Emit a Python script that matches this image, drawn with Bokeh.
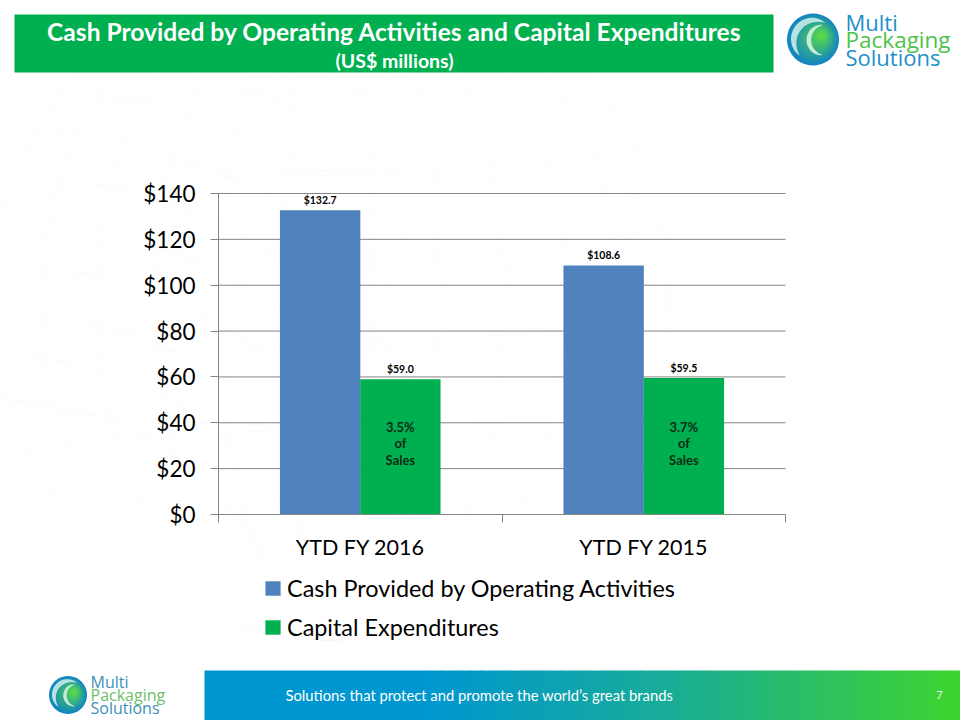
import math
from bokeh.embed import file_html
from bokeh.resources import INLINE
from bokeh.plotting import figure
from bokeh.core.properties import value
from bokeh.transform import dodge
from bokeh.models import (ColumnDataSource, Range1d, LinearAxis, FixedTicker,
                          NumeralTickFormatter, Legend, LegendItem, Label, BoxAnnotation, PolyAnnotation)

# ---- data ----
categories = ["YTD FY 2016", "YTD FY 2015"]
cash_provided = [132.7, 108.6]
capex = [59.0, 59.5]
cash_labels = ["$132.7", "$108.6"]
capex_labels = ["$59.0", "$59.5"]
sales_notes = ["3.5%\nof\nSales", "3.7%\nof\nSales"]
y_ticks = [0, 20, 40, 60, 80, 100, 120, 140]
series_names = ["Cash Provided by Operating Activities", "Capital Expenditures"]
title_text = "Cash Provided by Operating Activities and Capital Expenditures"
subtitle_text = "(US$ millions)"
footer_text = "Solutions that protect and promote the world\u2019s great brands"
page_number = "7"

# ---- style ----
FONT = "Lato"
BLUE = "#4F81BD"
GREEN = "#00B050"
GRID = "#868686"
W, H = 960, 720
FL, FR, FT, FB = 218, 785, 193, 514   # plot area in page pixels
DODGE = 0.1415
BAR_W = 0.2835
N = len(categories)
Y_MAX = y_ticks[-1]

centers = [i + 0.5 for i in range(N)]
px_x = (FR - FL) / N
px_y = (FB - FT) / Y_MAX

p = figure(width=W, height=H, output_backend="svg", toolbar_location=None,
           x_range=Range1d(-FL / px_x, N + (W - FR) / px_x),
           y_range=Range1d(-(H - FB) / px_y, Y_MAX + FT / px_y),
           min_border_left=0, min_border_right=0, min_border_top=0, min_border_bottom=0,
           x_axis_location=None, y_axis_location=None,
           outline_line_color=None, background_fill_color="white", border_fill_color="white")
p.grid.visible = False

src = ColumnDataSource(dict(pos=centers, cash=cash_provided, capex=capex,
                            cash_l=cash_labels, capex_l=capex_labels, note=sales_notes,
                            base=[0] * N))
grid_src = ColumnDataSource(dict(x0=[0] * len(y_ticks), x1=[N] * len(y_ticks), y=y_ticks))


# ---- page furniture helpers (page pixels) ----
def box(l, t, r, b, color):
    p.add_layout(BoxAnnotation(left=l, right=r, top=t, bottom=b,
                               left_units="canvas", right_units="canvas", top_units="canvas", bottom_units="canvas",
                               fill_color=color, fill_alpha=1, line_color=None, level="underlay", editable=False))


def poly(xs, ys, fill=None, line=None, width=1):
    p.add_layout(PolyAnnotation(xs=list(xs), ys=list(ys), xs_units="canvas", ys_units="canvas",
                                fill_color=fill, fill_alpha=1 if fill else 0,
                                line_color=line, line_width=width, level="underlay", editable=False))


def ell(cx, cy, rx, ry, n=72):
    a = [2 * math.pi * i / n for i in range(n)]
    return [cx + rx * math.cos(t) for t in a], [cy + ry * math.sin(t) for t in a]


def label(text, x, y, size, color, bold=False, align="left", baseline="middle", font=FONT):
    p.add_layout(Label(x=x, y=H - y, x_units="screen", y_units="screen", text=text,
                       text_font=font, text_font_size=f"{size}px",
                       text_font_style="bold" if bold else "normal",
                       text_color=color, text_align=align, text_baseline=baseline))


def mix(c1, c2, t):
    return "#%02x%02x%02x" % tuple(round(a + (b - a) * t) for a, b in zip(c1, c2))


def tapered_arc(cx, cy, rad, a0, a1, thick, color):
    n = 26
    ang = [math.radians(a0 + (a1 - a0) * i / n) for i in range(n + 1)]
    th = [thick * max(math.sin(math.pi * i / n), 0.0) ** 0.8 for i in range(n + 1)]
    ox = [cx + (rad + th[i] / 2) * math.cos(ang[i]) for i in range(n + 1)]
    oy = [cy - (rad + th[i] / 2) * math.sin(ang[i]) for i in range(n + 1)]
    ix = [cx + (rad - th[i] / 2) * math.cos(ang[i]) for i in range(n, -1, -1)]
    iy = [cy - (rad - th[i] / 2) * math.sin(ang[i]) for i in range(n, -1, -1)]
    poly(ox + ix, oy + iy, fill=color)


def logo(cx, cy, r):
    outer = (0x14, 0x86, 0xC0)
    inner = (0x58, 0xD8, 0x4A)
    steps = 16
    for i in range(steps):
        t = i / (steps - 1)
        rr = r * (1 - 0.88 * t)
        xs, ys = ell(cx + 0.34 * r * t, cy - 0.16 * r * t, rr, rr, 48)
        poly(xs, ys, fill=mix(outer, inner, t ** 1.1))
    tapered_arc(cx + 0.06 * r, cy + 0.05 * r, 0.80 * r, 60, 225, 0.26 * r, "#B5E2E2")
    tapered_arc(cx + 0.42 * r, cy + 0.02 * r, 0.58 * r, 95, 265, 0.18 * r, "#C4ECD8")


# ---- faint globe watermark ----
for rx in [340, 290, 235, 175, 110, 45]:
    xs, ys = ell(330, 300, rx, 340, 96)
    poly(xs, [min(max(y, 76), 660) for y in ys], line="#F5F5F5")
for dy in [-170, -85, 0, 85, 170]:
    xs, ys = ell(330, 300 + dy, 340, 40)
    poly(xs, ys, line="#F6F6F6")
for rad in range(300, 820, 45):
    pts = [(rad * math.cos(math.radians(d)), 700 - rad * math.sin(math.radians(d))) for d in range(20, 90, 3)]
    pts = [q for q in pts if q[0] <= 420 and q[1] >= 76]
    if len(pts) > 1:
        xs = [q[0] for q in pts]
        ys = [q[1] for q in pts]
        poly(xs + xs[::-1], ys + ys[::-1], line="#F7F7F7")

# ---- header ----
box(14, 14, 773, 72, GREEN)
label(title_text, 394, 30.5, 24.6, "white", bold=True, align="center")
label(subtitle_text, 394, 59.5, 19.5, "white", bold=True, align="center")
logo(812.5, 39, 26)
label("Multi", 845, 21, 22, "#1E8FC8", font="Open Sans")
label("Packaging", 845, 39, 22.5, "#4CC34A", font="Open Sans")
label("Solutions", 845, 56, 22, "#1E8FC8", font="Open Sans")

# ---- footer ----
C0, C1, C2 = (0x00, 0x97, 0xD0), (0x19, 0xAC, 0x97), (0x3E, 0xD4, 0x2E)
box(204, 670, 431, 720, mix(C0, C0, 0))
SL = 53
for i in range(SL):
    x0 = 430 + 10 * i
    x1 = min(x0 + 11, 960)
    t = (i + 0.5) / SL
    col = mix(C0, C1, t / 0.45) if t < 0.45 else mix(C1, C2, (t - 0.45) / 0.55)
    box(x0, 670, x1, 720, col)
label(footer_text, 285, 694, 14.8, "white")
label(page_number, 939, 694, 11, "#E8F8E8", align="center")
logo(67.5, 694.5, 19)
label("Multi", 90, 681.5, 16, "#3C8FB8", font="Open Sans")
label("Packaging", 90, 694.5, 16, "#6CC06A", font="Open Sans")
label("Solutions", 90, 707.5, 16, "#3C8FB8", font="Open Sans")

# ---- gridlines, bars, labels ----
p.segment(x0="x0", x1="x1", y0="y", y1="y", source=grid_src, line_color=GRID, line_width=1)

r1 = p.vbar(x=dodge("pos", -DODGE), top="cash", width=BAR_W, source=src, fill_color=BLUE, line_color=None)
r2 = p.vbar(x=dodge("pos", DODGE), top="capex", width=BAR_W, source=src, fill_color=GREEN, line_color=None)

p.text(x=dodge("pos", -DODGE), y="cash", text="cash_l", source=src,
       text_font=value(FONT), text_font_size="10.5px", text_font_style="bold", text_color="black",
       text_align="center", text_baseline="middle", y_offset=-10)
p.text(x=dodge("pos", DODGE), y="capex", text="capex_l", source=src,
       text_font=value(FONT), text_font_size="10.5px", text_font_style="bold", text_color="black",
       text_align="center", text_baseline="middle", y_offset=-10.5)
p.text(x=dodge("pos", DODGE), y="base", text="note", source=src,
       text_font=value(FONT), text_font_size="13px", text_font_style="bold", text_color="#0B2B14",
       text_align="center", text_baseline="middle", y_offset=-71, text_line_height=1.03)

# ---- axes: pinned to the plot area with fixed_location ----
ya = LinearAxis(fixed_location=0, bounds=(0, Y_MAX), ticker=FixedTicker(ticks=y_ticks),
                formatter=NumeralTickFormatter(format="$0"),
                axis_line_color=GRID, major_tick_line_color=GRID, major_tick_in=0, major_tick_out=8,
                minor_tick_line_color=None, major_label_standoff=15,
                major_label_text_font=FONT, major_label_text_font_size="22.5px",
                major_label_text_color="black")
p.add_layout(ya, "left")

ta = LinearAxis(fixed_location=0, bounds=(0, N), ticker=FixedTicker(ticks=list(range(N + 1))),
                major_label_overrides={i: "" for i in range(N + 1)},
                major_label_text_font_size="0px", major_label_standoff=0,
                axis_line_color=GRID, major_tick_line_color=GRID, major_tick_in=0, major_tick_out=8,
                minor_tick_line_color=None)
p.add_layout(ta, "below")

xa = LinearAxis(fixed_location=0, ticker=FixedTicker(ticks=centers),
                major_label_overrides=dict(zip(centers, categories)),
                axis_line_color=None, major_tick_line_color=None, minor_tick_line_color=None,
                major_tick_in=0, major_tick_out=0,
                major_label_standoff=19, major_label_text_font=FONT,
                major_label_text_font_size="21.5px", major_label_text_color="black")
p.add_layout(xa, "below")

# ---- legend ----
leg = Legend(items=[LegendItem(label=series_names[0], renderers=[r1]),
                    LegendItem(label=series_names[1], renderers=[r2])],
             location=(263, H - 641), orientation="vertical",
             glyph_width=19, glyph_height=18, label_standoff=5, spacing=11,
             label_height=28, padding=0, margin=0,
             border_line_color=None, background_fill_alpha=0,
             label_text_font=FONT, label_text_font_size="23.4px", label_text_color="black",
             label_text_baseline="middle")
p.add_layout(leg, "center")

open("out.html", "w").write(file_html(p, INLINE))
